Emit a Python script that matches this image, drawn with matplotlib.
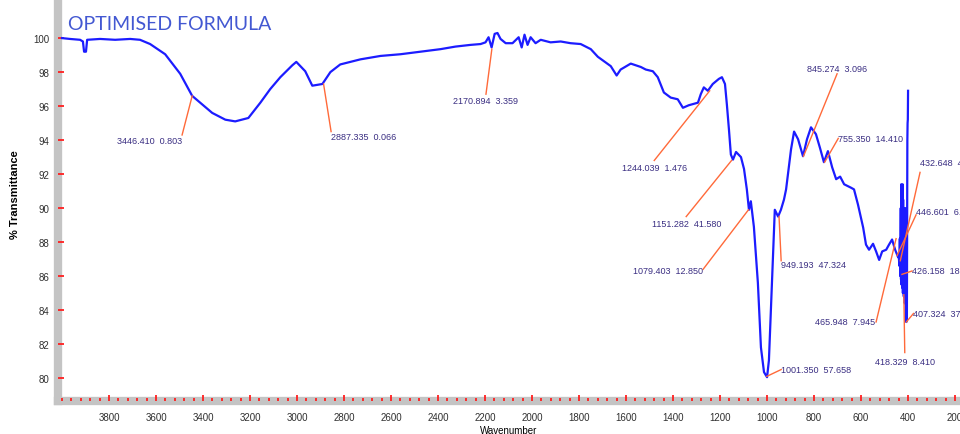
import numpy as np
import matplotlib
matplotlib.use("Agg")
import matplotlib.pyplot as plt
from matplotlib.ticker import MultipleLocator, FixedLocator

# FTIR spectrum (wavenumber, % transmittance)
wavenumber = [4000, 3966, 3923, 3911, 3906, 3898, 3893, 3838, 3774, 3710, 3668, 3625,
              3561, 3497, 3446, 3412, 3361, 3305, 3263, 3207, 3156, 3114, 3071, 3020,
              3003, 2965, 2935, 2892, 2858, 2816, 2730, 2645, 2560, 2475, 2389, 2326,
              2262, 2219, 2198, 2185, 2172, 2159, 2147, 2134, 2112, 2083, 2057, 2044,
              2032, 2019, 2006, 1985, 1963, 1921, 1878, 1836, 1793, 1750, 1720, 1695,
              1665, 1640, 1623, 1580, 1537, 1516, 1486, 1465, 1439, 1410, 1380, 1358,
              1333, 1294, 1282, 1269, 1252, 1231, 1205, 1192, 1179, 1171, 1162, 1154,
              1145, 1132, 1111, 1098, 1086, 1077, 1069, 1056, 1039, 1026, 1013, 1000,
              992, 979, 971, 967, 953, 941, 928, 919, 898, 885, 868, 847, 830, 813,
              792, 775, 758, 741, 723, 706, 689, 672, 643, 630, 613, 591, 579, 566,
              549, 536, 523, 510, 493, 481, 468, 455, 442, 440, 437, 435, 433, 431,
              430, 429, 428, 427, 426, 425, 424, 423, 422, 421, 420, 419, 418, 416,
              414, 412, 410, 408, 407, 405, 403, 402, 401, 400]
transmittance = [100.0, 99.95, 99.9, 99.8, 99.2, 99.2, 99.9, 99.95, 99.9, 99.95, 99.9, 99.65,
                 99.05, 97.9, 96.6, 96.2, 95.6, 95.2, 95.1, 95.3, 96.2, 97.0, 97.7, 98.4,
                 98.6, 98.05, 97.2, 97.3, 98.0, 98.45, 98.75, 98.95, 99.05, 99.2, 99.35, 99.5,
                 99.6, 99.65, 99.75, 100.05, 99.45, 100.25, 100.3, 99.95, 99.7, 99.7, 100.05, 99.45,
                 100.2, 99.6, 100.05, 99.7, 99.9, 99.75, 99.8, 99.7, 99.65, 99.35, 98.9, 98.65,
                 98.35, 97.8, 98.15, 98.5, 98.3, 98.15, 98.05, 97.7, 96.8, 96.5, 96.4, 95.9,
                 96.05, 96.2, 96.7, 97.1, 96.9, 97.3, 97.6, 97.7, 97.3, 96.1, 94.6, 93.15,
                 92.85, 93.3, 93.0, 92.3, 91.1, 89.9, 90.4, 88.9, 85.6, 81.8, 80.35, 80.05,
                 81.05, 85.6, 88.55, 89.9, 89.5, 89.9, 90.5, 91.1, 93.45, 94.5, 94.05, 93.05, 94.05, 94.75,
                 94.35, 93.55, 92.7, 93.35, 92.4, 91.7, 91.85, 91.4, 91.2, 91.1, 90.2, 88.85, 87.85, 87.55,
                 87.9, 87.45, 86.95, 87.45, 87.55, 87.85, 88.15, 87.55, 87.1, 87.3, 86.6, 88.2, 86.0, 90.0,
                 85.8, 91.4, 85.5, 90.8, 86.1, 91.2, 85.3, 91.4, 85.0, 90.5, 85.4, 89.0, 84.8, 88.5,
                 84.4, 90.0, 83.6, 83.3, 83.3, 83.4, 94.0, 95.0, 95.2, 96.9]

# peak picks: (point wn, point T, label wn, label T, text)
peak_x = [3446, 2887, 2171, 1244, 1151, 1079, 949, 1001, 845, 755, 451, 433, 447, 426, 418, 407]
peak_y = [96.6, 97.3, 99.35, 96.9, 92.8, 89.9, 89.5, 80.1, 93.05, 92.7, 88.2, 86.9, 87.2, 86.1, 84.9, 83.3]
label_x = [3489, 2855, 2196, 1480, 1344, 1272, 940, 940, 702, 697, 536, 349, 366, 383, 414, 377]
label_y = [94.3, 94.5, 96.7, 92.8, 89.5, 86.4, 86.9, 80.5, 97.9, 94.1, 83.3, 92.1, 89.6, 86.3, 81.5, 83.8]
label_text = ["3446.410  0.803", "2887.335  0.066", "2170.894  3.359", "1244.039  1.476",
              "1151.282  41.580", "1079.403  12.850", "949.193  47.324", "1001.350  57.658",
              "845.274  3.096", "755.350  14.410", "465.948  7.945", "432.648  4.135",
              "446.601  6.277", "426.158  18.322", "418.329  8.410", "407.324  37.104"]
# where the text sits relative to the end of the leader line
text_dx = [-2, 1, 0, 0, 0, 0, 0, 1, 0, 1, 4, 0, 0, 1, 0, 1]
text_dy = [-0.3, -0.3, -0.4, -0.4, -0.4, -0.1, -0.2, 0, 0.3, 0, 0, 0.6, 0.2, 0, -0.5, 0]
text_ha = ["right", "left", "center", "center", "center", "right", "left", "left",
           "center", "left", "right", "left", "left", "left", "center", "left"]

x_ticks = [3800, 3600, 3400, 3200, 3000, 2800, 2600, 2400, 2200, 2000, 1800, 1600, 1400, 1200, 1000, 800, 600, 400, 200]
y_ticks = [80, 82, 84, 86, 88, 90, 92, 94, 96, 98, 100]

fig = plt.figure(figsize=(9.6, 4.35), dpi=100)
ax = fig.add_axes([58 / 960, 33 / 435, 902 / 960, 402 / 435])

ax.plot(wavenumber, transmittance, color='#1c1cff', lw=1.6, zorder=3)

for i in range(len(peak_x)):
    ax.plot([peak_x[i], label_x[i]], [peak_y[i], label_y[i]], color='#ff6a3a', lw=1.0, zorder=4)
    ax.text(label_x[i] + text_dx[i], label_y[i] + text_dy[i], label_text[i],
            ha=text_ha[i], va='center', fontsize=6.5, family='Liberation Sans',
            color='#3a2e82', zorder=5)

ax.set_xlim(4017, 179)
ax.set_ylim(78.65, 102.3)
ax.xaxis.set_major_locator(FixedLocator(x_ticks))
ax.xaxis.set_minor_locator(MultipleLocator(40))
ax.yaxis.set_major_locator(FixedLocator(y_ticks))
ax.set_xticklabels([str(t) for t in x_ticks], fontsize=7, family='Liberation Sans', color='#303030')
ax.set_yticklabels([str(t) for t in y_ticks], fontsize=7, family='Liberation Sans', color='#303030')
ax.tick_params(axis='both', which='major', direction='in', color='#ff2020', length=4, width=1.3, pad=8)
ax.tick_params(axis='x', which='minor', direction='in', color='#ff2020', length=2, width=1.3)
ax.tick_params(axis='y', which='major', pad=6)
ax.set_axisbelow(False)

for side in ['top', 'right']:
    ax.spines[side].set_visible(False)
for side in ['left', 'bottom']:
    ax.spines[side].set_color('#c4c4c4')
    ax.spines[side].set_linewidth(6)
    ax.spines[side].set_zorder(1)

ax.set_xlabel('Wavenumber', fontsize=7, family='Liberation Sans', labelpad=2)
fig.text(15 / 960, 1 - 195 / 435, '% Transmittance', rotation=90, ha='center', va='center',
         fontsize=8, fontweight='bold', family='Liberation Sans')
fig.text(68 / 960, 1 - 25 / 435, 'OPTIMISED FORMULA', ha='left', va='center',
         fontsize=14, family='Lato', color='#4358d2')

fig.savefig('out.png', dpi=100)
